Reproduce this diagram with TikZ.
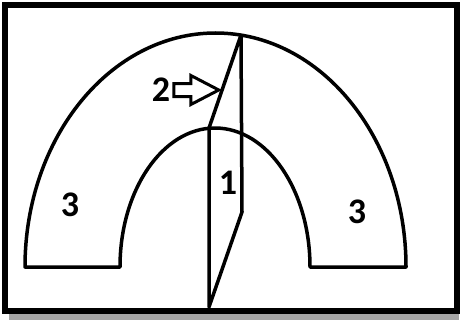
\documentclass[tikz,border=0pt]{standalone}
\usepackage{fontspec}
\setmainfont{Carlito}
\usetikzlibrary{shapes.arrows,positioning}

\begin{document}
\begin{tikzpicture}[x=1pt,y=1pt,
  rim/.style={line width=3.5pt,line join=round},
  num/.style={font=\fontsize{36}{36}\selectfont\bfseries,inner sep=0pt},
  blk/.style={single arrow,draw,line width=3pt,minimum height=45pt,
              inner sep=5pt,single arrow head extend=8pt,single arrow tip angle=55}]
\useasboundingbox (0,0) rectangle (460,322);
% frame with its shadow
\fill[black!35] (9,2) rectangle (459,10);
\draw[line width=6pt,fill=white] (5,11) rectangle (457,317);
% the bent tube
\draw[rim] (25,55) -- (120,55) arc[start angle=180,end angle=0,x radius=95,y radius=139]
  -- (406,55) arc[start angle=0,end angle=180,x radius=190.5,y radius=234] -- cycle;
% the wedge
\coordinate (top) at (241,287);
\coordinate (ntop) at (209,194);
\coordinate (bot) at (209,15);
\coordinate (kink) at (242,110);
\draw[rim] (top) -- (ntop) -- (bot) -- (kink) -- (top);
% labels
\node[blk,anchor=tip] (push) at (222,232) {};
\node[num,left=2pt of push.tail] (two) {2};
\node[num] (one) at (228,139) {1};
\node[num] (left) at (70,117) {3};
\node[num] (right) at (357,110) {3};
\end{tikzpicture}
\end{document}
